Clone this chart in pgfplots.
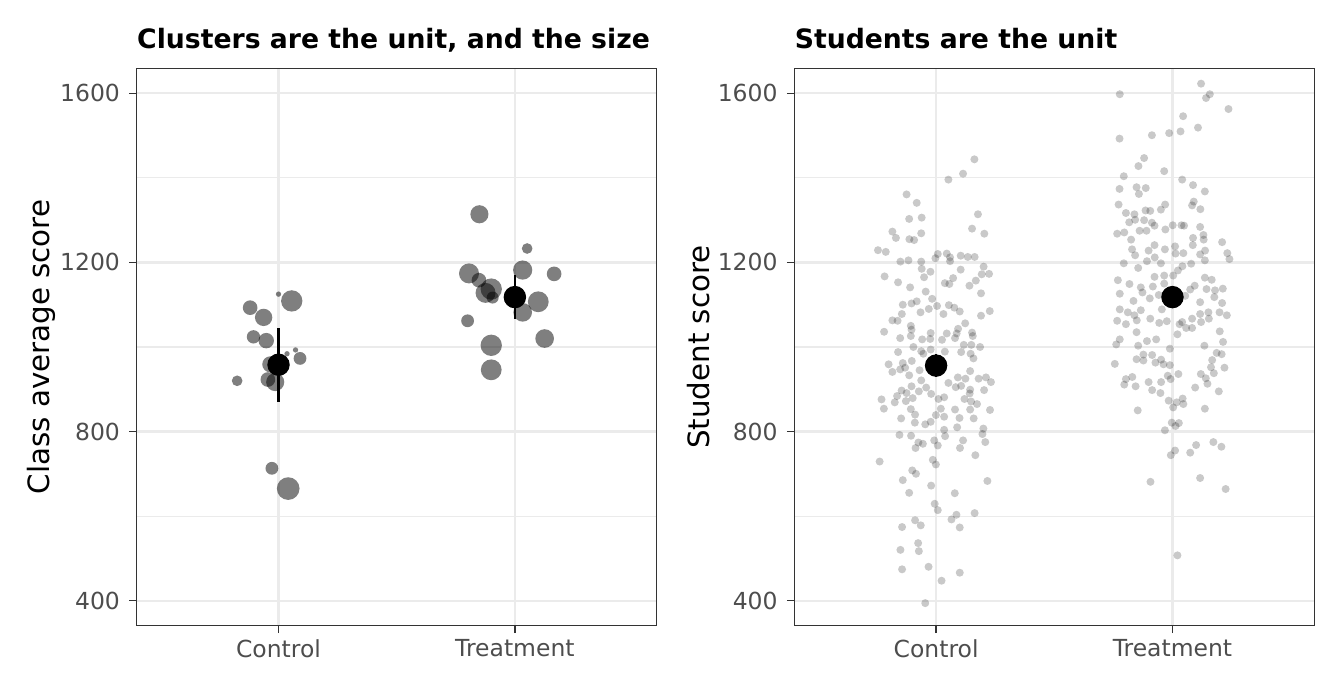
\documentclass[border=0pt]{standalone}
\usepackage{fontspec}
\setmainfont{DejaVu Sans}
\usepackage{pgfplots}
\pgfplotsset{compat=1.18}
\definecolor{gray92}{HTML}{EBEBEB}
\definecolor{gray20}{HTML}{333333}
\definecolor{gray30}{HTML}{4D4D4D}
\pgfplotsset{
  panel/.style={
    scale only axis, width=195pt, height=209pt,
    xmin=0.4, xmax=2.6, ymin=340.6, ymax=1659.2,
    xtick={1,2}, xticklabels={Control,Treatment},
    ytick={400,800,1200,1600}, minor ytick={600,1000,1400},
    grid=both,
    major grid style={line width=0.8pt, gray92},
    minor grid style={line width=0.4pt, gray92},
    axis line style={line width=0.5pt, gray20},
    tick align=outside, tick pos=left,
    major tick length=2.75pt, minor tick length=0pt,
    tick style={line width=0.5pt, gray20},
    tick label style={font=\fontsize{8.8}{10}\selectfont, text=gray30},
    xticklabel style={yshift=1.1pt},
    /pgf/number format/assume math mode=true,
    /pgf/number format/1000 sep={},
    label style={font=\fontsize{11}{13}\selectfont},
    ylabel style={at={(axis description cs:-0.184,0.5)}, anchor=center},
    title style={at={(axis description cs:0,1)}, anchor=base west,
      inner sep=0pt, yshift=1.5pt, font=\bfseries\fontsize{10}{12}\selectfont},
  },
  clusters/.style={scatter, only marks, mark=*,
    scatter/use mapped color={draw opacity=0, fill=black, fill opacity=0.5},
    visualization depends on={\thisrow{r} \as \rad},
    scatter/@pre marker code/.append style={/tikz/mark size=\rad}},
  students/.style={only marks, mark=*, mark size=1.5pt, black,
    mark options={draw opacity=0, fill=black, fill opacity=0.21}},
  means/.style={only marks, mark=*, mark size=4pt, black,
    error bars/.cd, y dir=both, y explicit, error mark=none,
    error bar style={line width=1pt, black}},
}

% class averages: group position, score, marker radius (pt)
\pgfplotstableread{
x y r
1.000 1125 1.0
1.056 1109 4.0
0.880 1093 2.75
0.937 1070 3.25
0.894 1024 2.5
0.948 1015 2.9
1.072 993 1.0
1.036 984 1.0
1.091 973 2.4
0.825 920 2.0
0.955 923 2.75
0.986 917 3.4
0.972 713 2.4
1.041 665 4.25
0.965 959 3.0
1.850 1314 3.4
2.052 1233 2.0
1.806 1174 3.75
2.033 1182 3.6
2.166 1173 2.75
1.848 1158 2.75
1.900 1137 4.0
1.876 1128 3.75
1.906 1117 2.25
2.099 1107 3.9
2.033 1082 3.5
1.800 1062 2.4
2.126 1020 3.5
1.900 1004 4.0
1.900 946 3.9
}\classes

\pgfplotstableread{
x y
1.162 1444
1.114 1410
1.052 1396
0.875 1361
0.918 1341
1.177 1314
0.886 1303
0.939 1306
1.152 1280
0.815 1273
0.830 1258
1.204 1268
0.937 1269
0.887 1255
0.907 1253
0.754 1229
0.787 1225
1.007 1220
1.045 1221
0.997 1210
1.059 1212
1.104 1216
1.134 1213
1.163 1213
0.849 1202
0.883 1205
0.937 1202
1.059 1203
1.201 1190
0.939 1185
0.976 1178
1.104 1183
0.782 1167
0.949 1165
1.193 1172
1.224 1173
0.839 1153
1.072 1163
1.037 1151
1.056 1149
0.890 1141
1.168 1157
1.141 1145
0.956 1131
1.190 1127
0.983 1114
0.859 1100
0.896 1103
0.918 1108
1.004 1097
1.054 1099
1.077 1093
0.969 1090
0.934 1082
1.100 1084
1.031 1078
1.227 1085
1.190 1074
0.855 1078
0.815 1063
0.837 1062
1.123 1056
0.893 1050
0.896 1041
1.093 1043
0.780 1036
0.977 1033
1.045 1032
1.087 1032
1.152 1034
1.155 1026
0.848 1021
0.893 1026
0.941 1018
0.975 1019
1.025 1017
1.080 1021
0.904 1000
0.977 994
1.117 1005
1.149 1005
1.186 1000
0.839 988
0.937 990
1.037 989
1.106 988
1.146 984
0.799 959
0.859 962
0.897 967
1.158 973
0.946 984
0.848 947
0.869 951
0.815 941
0.930 945
1.144 943
0.886 933
0.937 921
1.052 915
1.092 928
1.124 925
1.180 925
1.211 928
1.232 917
1.083 905
1.106 908
1.144 899
1.203 898
0.896 907
0.958 904
0.927 895
0.854 897
0.875 891
0.835 884
0.769 876
0.825 869
0.872 872
0.901 879
0.979 889
1.010 877
1.034 881
1.120 877
1.142 890
1.148 871
1.173 865
0.779 854
0.893 853
0.911 840
1.020 854
0.999 839
1.034 835
1.080 852
1.144 852
1.228 851
0.852 831
1.099 832
1.159 831
0.910 821
0.954 817
0.977 823
1.089 810
1.200 807
1.034 804
1.196 794
0.845 792
0.894 790
1.038 789
0.925 774
0.944 771
0.992 779
1.007 767
1.114 779
1.208 775
0.913 761
1.101 761
1.166 744
0.761 729
0.986 733
0.999 722
0.899 708
0.915 700
0.859 685
1.217 683
0.979 672
0.886 655
1.079 654
0.994 629
1.007 614
1.086 603
1.163 607
0.911 590
0.935 578
1.065 592
1.100 573
0.856 574
0.924 536
0.849 520
0.927 517
0.856 474
0.968 480
1.100 466
1.023 447
0.954 394
}\control

\pgfplotstableread{
x y
2.121 1623
1.777 1598
2.158 1598
2.142 1589
2.237 1563
2.045 1546
2.108 1519
1.776 1493
1.913 1501
1.986 1506
2.034 1510
1.880 1447
1.856 1428
1.965 1416
1.794 1404
2.041 1396
2.087 1383
2.137 1368
1.776 1374
1.848 1378
1.887 1376
1.858 1362
1.772 1337
1.969 1337
2.090 1344
2.083 1335
2.118 1326
1.803 1317
1.839 1314
1.886 1323
1.906 1322
1.951 1325
1.817 1295
1.842 1301
1.880 1300
1.913 1294
1.924 1287
1.766 1268
1.796 1271
1.861 1275
1.890 1275
1.970 1278
2.001 1288
2.038 1288
2.049 1287
2.117 1284
1.825 1254
2.087 1258
2.131 1265
2.132 1254
2.210 1248
1.829 1231
1.842 1217
1.899 1228
1.924 1241
1.968 1231
2.011 1238
2.013 1221
2.046 1222
2.086 1241
2.117 1219
2.138 1228
2.137 1205
2.232 1222
2.241 1208
1.794 1198
1.855 1187
1.892 1203
1.925 1212
1.951 1198
2.079 1197
2.042 1191
2.023 1181
2.003 1169
1.769 1158
1.818 1149
1.924 1166
1.965 1169
1.965 1150
2.137 1164
2.166 1159
1.866 1141
1.917 1143
1.873 1129
2.075 1136
2.094 1145
2.144 1137
2.180 1134
2.213 1138
1.777 1126
1.835 1109
1.904 1115
1.942 1123
2.054 1121
2.177 1118
2.117 1106
2.210 1104
1.777 1089
1.811 1082
1.839 1075
1.866 1087
1.955 1089
2.117 1078
2.152 1082
2.199 1082
2.230 1075
1.766 1062
1.803 1054
1.849 1063
1.906 1067
1.944 1057
1.976 1061
2.030 1054
2.041 1059
2.083 1067
2.121 1059
2.154 1067
2.058 1045
2.083 1045
2.021 1030
1.848 1035
2.200 1037
1.777 1018
1.762 1006
1.855 1003
1.892 1014
1.931 1018
2.214 1012
1.989 996
2.135 1003
1.756 960
1.848 971
1.877 982
1.914 981
1.877 968
1.928 963
1.952 970
1.962 959
1.989 957
2.187 986
2.208 983
2.168 969
2.220 951
1.803 924
1.830 929
1.796 911
1.844 907
1.899 917
1.952 917
1.980 932
1.992 924
2.025 936
2.120 936
2.141 926
2.175 938
2.163 952
2.148 913
2.096 904
2.196 895
1.914 898
1.949 891
1.984 873
2.043 878
2.046 865
2.018 869
2.003 857
1.853 850
2.137 854
1.997 821
2.027 820
2.013 813
1.968 803
2.173 775
2.207 764
2.100 768
2.075 750
2.011 755
1.993 744
1.907 681
2.117 690
2.225 664
2.021 507
}\treatment

\begin{document}
\begin{tikzpicture}
\path[use as bounding box] (0,0) rectangle (504pt,259.125pt);

\begin{axis}[panel, at={(51.26pt,24.49pt)}, anchor=south west,
  title={Clusters are the unit, and the size},
  ylabel={Class average score}]
\addplot[clusters] table[x=x, y=y] {\classes};
\addplot[means] coordinates {(1,958) +- (0,87.5) (2,1118) +- (0,52.5)};
\end{axis}

\begin{axis}[panel, at={(297.86pt,24.49pt)}, anchor=south west,
  title={Students are the unit},
  ylabel={Student score}]
\addplot[students] table[x=x, y=y] {\control};
\addplot[students] table[x=x, y=y] {\treatment};
\addplot[means] coordinates {(1,956) +- (0,27) (2,1118) +- (0,24)};
\end{axis}
\end{tikzpicture}
\end{document}
